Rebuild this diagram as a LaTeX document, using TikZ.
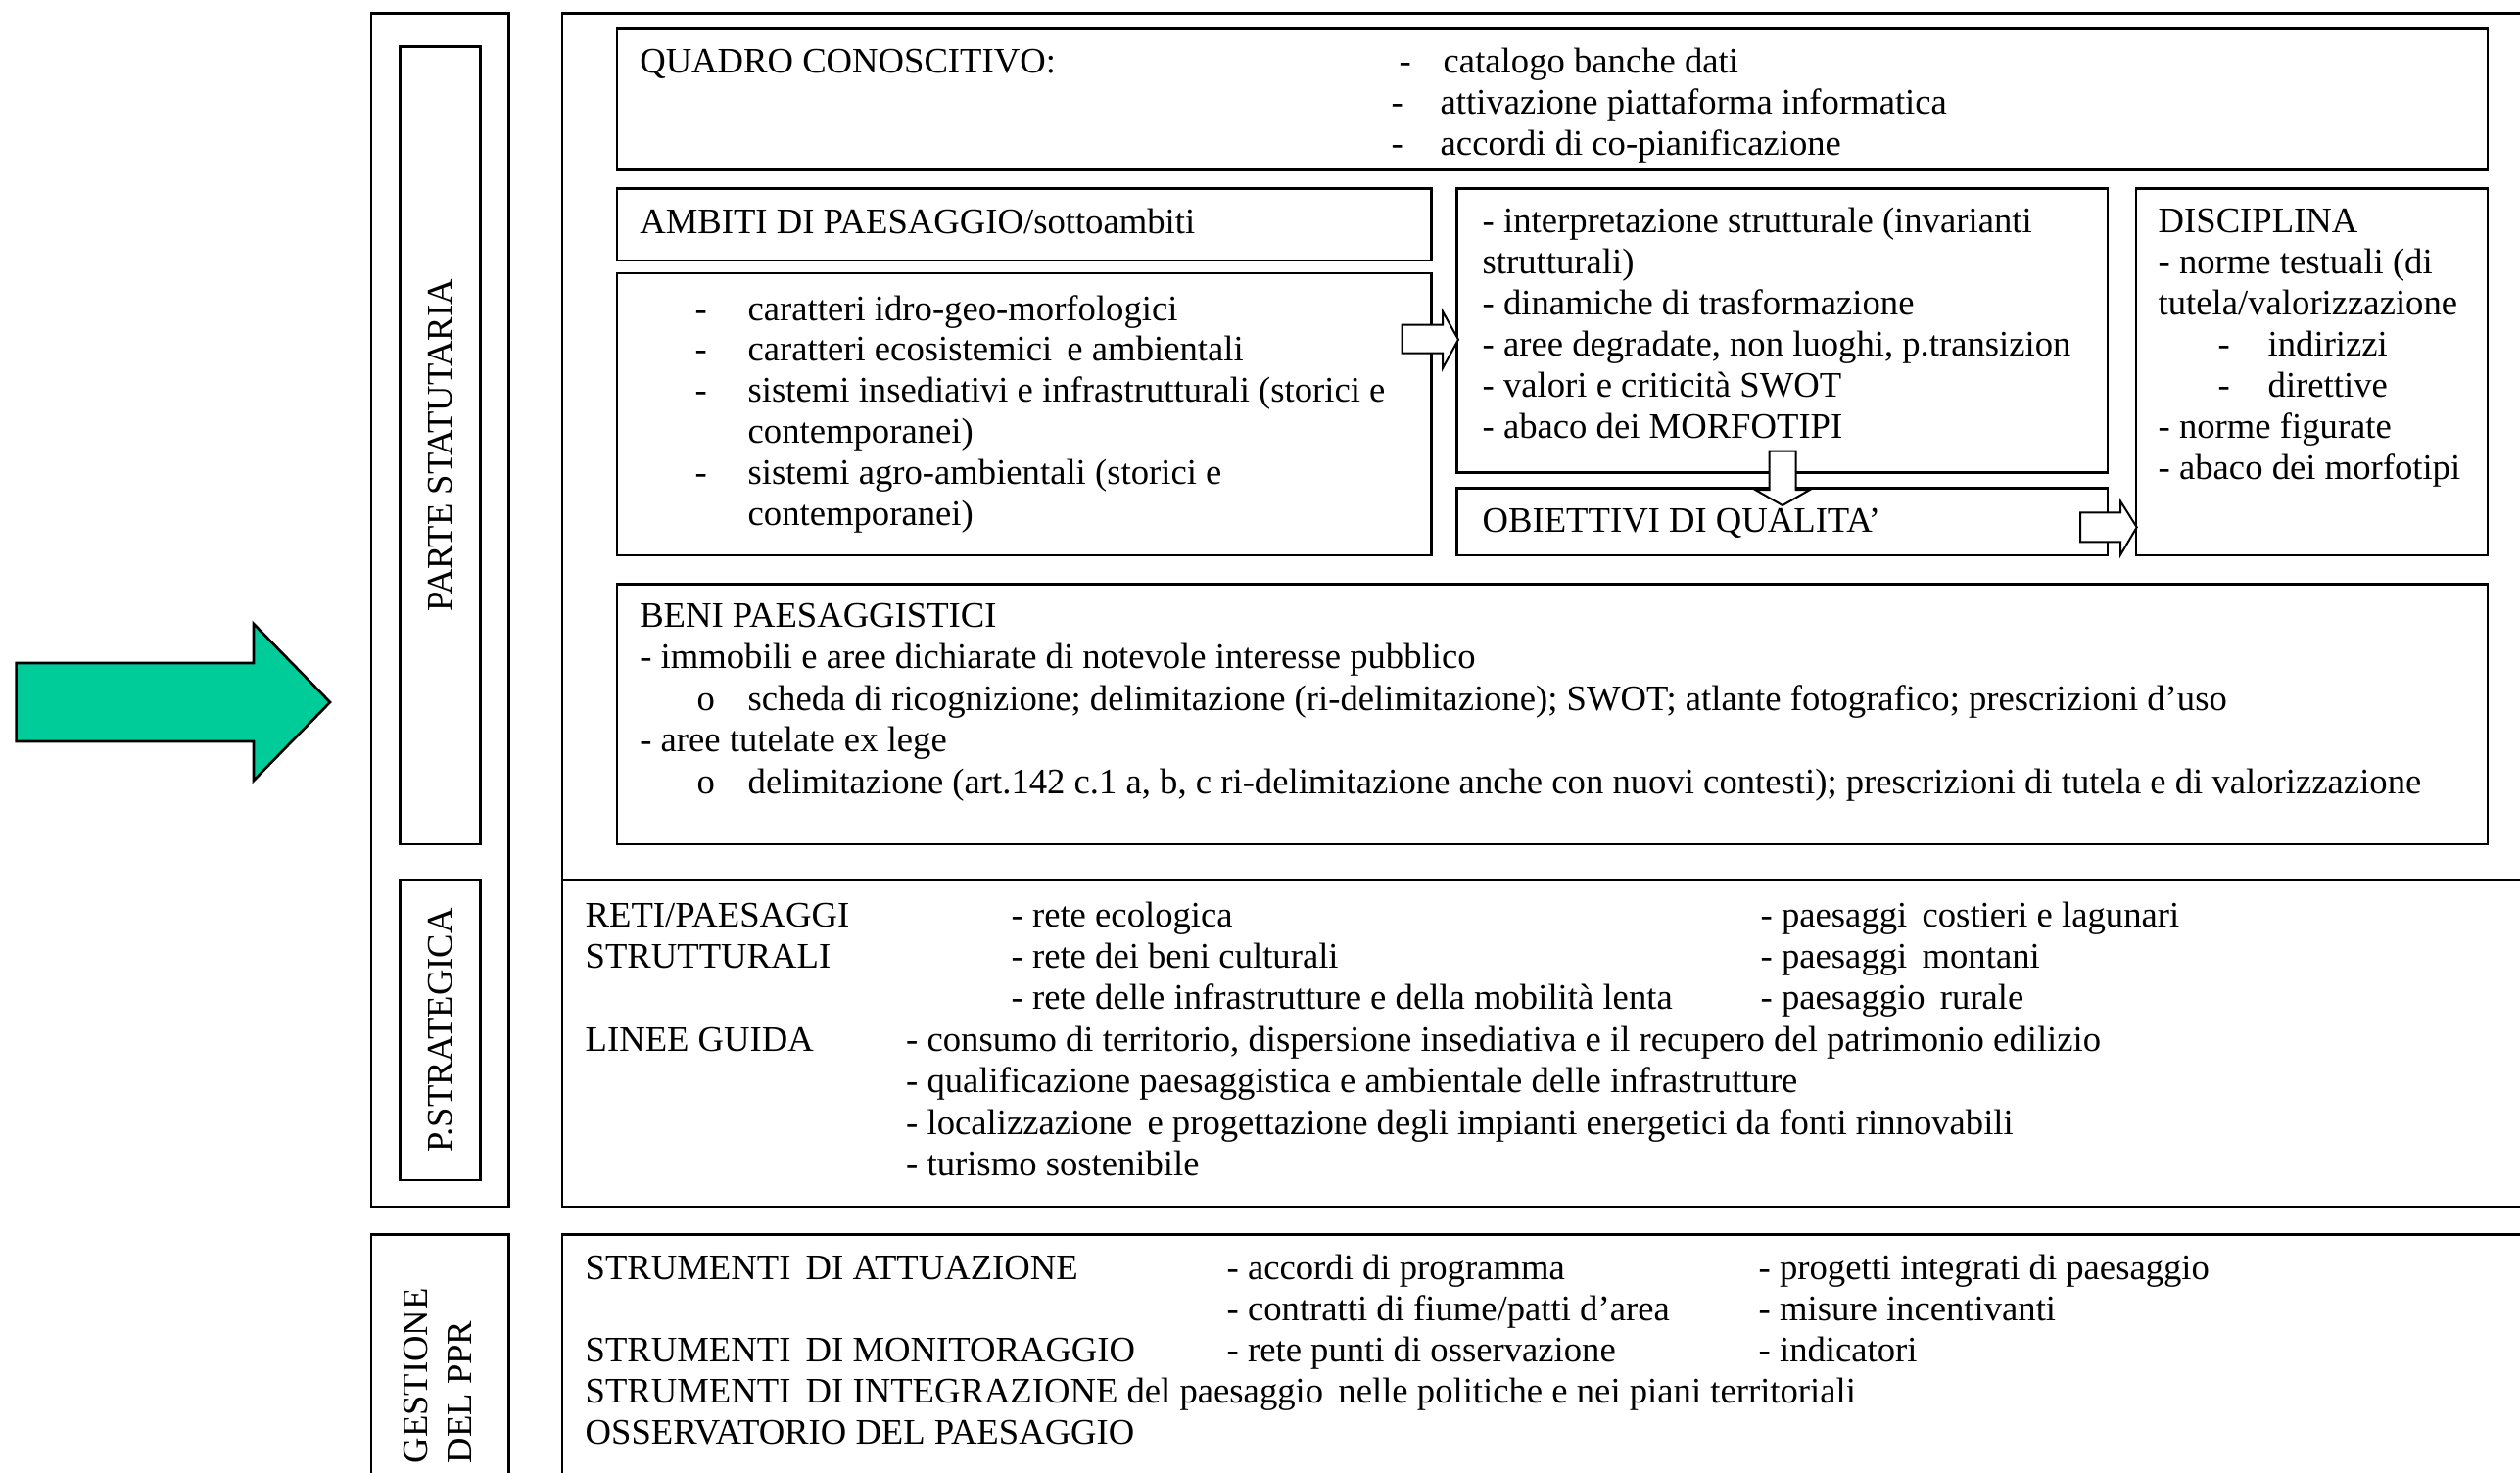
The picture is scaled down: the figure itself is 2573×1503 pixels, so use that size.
\documentclass[tikz,border=0pt]{standalone}
\usepackage{fontspec}
\setmainfont{Liberation Serif}
\usetikzlibrary{fit}
\definecolor{arrowgreen}{RGB}{0,204,153}
\tikzset{
  frame/.style={draw=black, line width=0.8pt, inner sep=0pt},
  txt/.style={font=\fontsize{11}{12.66}\selectfont, inner sep=0pt, anchor=base west},
  vtxt/.style={txt, rotate=90},
  blockarrow/.style={draw=black, fill=white, line width=0.6pt, line join=miter},
  bigarrow/.style={draw=black, fill=arrowgreen, line width=0.8pt, line join=miter}
}
\newcommand\Ln[4]{\node[txt] (#1) at (#2,#3) {#4};}
\begin{document}
\begin{tikzpicture}[x=0.3pt,y=-0.3pt]
\useasboundingbox (0,0) rectangle (2573,1503);
\clip (0,0) rectangle (2573,1503);

% green arrow
\draw[bigarrow] (16.6,677) -- (259,677) -- (259,637) -- (337,717) -- (259,797) -- (259,757) -- (16.6,757) -- cycle;

% left column
\node[frame, fit={(379,13.3) (519.5,1232)}] (leftA) {};
\node[frame, fit={(408.3,47.7) (490.5,862)}] (psbox) {};
\node[frame, fit={(408.3,899) (490.5,1205)}] (pstrbox) {};
\node[frame, fit={(379,1260.7) (519.5,1560)}] (gestbox) {};
\node[vtxt, anchor=center] (pslab) at (psbox.center) {PARTE STATUTARIA};
\node[vtxt, anchor=center] (pstrlab) at (pstrbox.center) {P.STRATEGICA};
\node[vtxt] (gest1) at (436,1495) {GESTIONE};
\node[vtxt] (gest2) at (481.7,1495) {DEL PPR};

% right column frames
\node[frame, fit={(574,13.3) (2620,899)}] (statut) {};
\node[frame, fit={(574,899) (2620,1232)}] (strat) {};
\node[frame, fit={(574,1260.7) (2620,1560)}] (gestmain) {};

% inner boxes
\node[frame, fit={(630,29.3) (2540,173.5)}] (quadro) {};
\node[frame, fit={(630,192.5) (1461.5,266)}] (ambiti) {};
\node[frame, fit={(630,279) (1461.5,567)}] (caratt) {};
\node[frame, fit={(1487.5,192.5) (2152,482.5)}] (interp) {};
\node[frame, fit={(1487.5,498.5) (2152,567)}] (obiett) {};
\node[frame, fit={(2181,192.5) (2540,567)}] (discip) {};
\node[frame, fit={(630,596.5) (2540,862)}] (beni) {};

% block arrows
\draw[blockarrow] (1431.7,331.7) -- (1473,331.7) -- (1473,318) -- (1489,346.7) -- (1473,376) -- (1473,360.7) -- (1431.7,360.7) -- cycle;
\draw[blockarrow] (1806.5,460.7) -- (1833.5,460.7) -- (1833.5,500) -- (1848,500) -- (1820,516) -- (1792,500) -- (1806.5,500) -- cycle;
\draw[blockarrow] (2124,523.3) -- (2165,523.3) -- (2165,511.7) -- (2181.7,538.3) -- (2165,566.7) -- (2165,553.3) -- (2124,553.3) -- cycle;

% QUADRO
\Ln{q0}{652.6}{74.5}{QUADRO CONOSCITIVO:}
\Ln{q1d}{1428}{74.5}{-}
\Ln{q1}{1473}{74.5}{catalogo banche dati}
\Ln{q2d}{1420}{116}{-}
\Ln{q2}{1470}{116}{attivazione piattaforma informatica}
\Ln{q3d}{1420}{158}{-}
\Ln{q3}{1470}{158}{accordi di co-pianificazione}

% AMBITI
\Ln{a0}{652.6}{238}{AMBITI DI PAESAGGIO/sottoambiti}

% caratteri
\Ln{c1d}{709}{327}{-}
\Ln{c1}{763}{327}{caratteri idro-geo-morfologici}
\Ln{c2d}{709}{368.8}{-}
\Ln{c2}{763}{368.8}{caratteri ecosistemici\, e ambientali}
\Ln{c3d}{709}{410.6}{-}
\Ln{c3}{763}{410.6}{sistemi insediativi e infrastrutturali (storici e}
\Ln{c4}{763}{452.4}{contemporanei)}
\Ln{c5d}{709}{494.2}{-}
\Ln{c5}{763}{494.2}{sistemi agro-ambientali (storici e}
\Ln{c6}{763}{536}{contemporanei)}

% interpretazione
\Ln{i1}{1513}{237.3}{- interpretazione strutturale (invarianti}
\Ln{i2}{1513}{279.4}{strutturali)}
\Ln{i3}{1513}{321.5}{- dinamiche di trasformazione}
\Ln{i4}{1513}{363.6}{- aree degradate, non luoghi, p.transizion}
\Ln{i5}{1513}{405.7}{- valori e criticità SWOT}
\Ln{i6}{1513}{447.8}{- abaco dei MORFOTIPI}
\Ln{o1}{1513}{543.4}{OBIETTIVI DI QUALITA’}

% disciplina
\Ln{d1}{2203}{237.3}{DISCIPLINA}
\Ln{d2}{2203}{279.4}{- norme testuali (di}
\Ln{d3}{2203}{321.5}{tutela/valorizzazione}
\Ln{d4d}{2264}{363.6}{-}
\Ln{d4}{2315}{363.6}{indirizzi}
\Ln{d5d}{2264}{405.7}{-}
\Ln{d5}{2315}{405.7}{direttive}
\Ln{d6}{2203}{447.8}{- norme figurate}
\Ln{d7}{2203}{489.9}{- abaco dei morfotipi}

% beni
\Ln{b1}{652.6}{640.3}{BENI PAESAGGISTICI}
\Ln{b2}{652.6}{682.7}{- immobili e aree dichiarate di notevole interesse pubblico}
\Ln{b3o}{711}{725}{o}
\Ln{b3}{763}{725}{scheda di ricognizione; delimitazione (ri-delimitazione); SWOT; atlante fotografico; prescrizioni d’uso}
\Ln{b4}{652.6}{767.5}{- aree tutelate ex lege}
\Ln{b5o}{711}{810}{o}
\Ln{b5}{763}{810}{delimitazione (art.142 c.1 a, b, c ri-delimitazione anche con nuovi contesti); prescrizioni di tutela e di valorizzazione}

% strategica
\Ln{s1}{597}{946.1}{RETI/PAESAGGI}
\Ln{s2}{597}{988.5}{STRUTTURALI}
\Ln{s1a}{1032}{946.1}{- rete ecologica}
\Ln{s2a}{1032}{988.5}{- rete dei beni culturali}
\Ln{s3a}{1032}{1030.9}{- rete delle infrastrutture e della mobilità lenta}
\Ln{s1b}{1797}{946.1}{- paesaggi\, costieri e lagunari}
\Ln{s2b}{1797}{988.5}{- paesaggi\, montani}
\Ln{s3b}{1797}{1030.9}{- paesaggio\, rurale}
\Ln{l0}{597}{1073.3}{LINEE GUIDA}
\Ln{l1}{924.5}{1073.3}{- consumo di territorio, dispersione insediativa e il recupero del patrimonio edilizio}
\Ln{l2}{924.5}{1115.7}{- qualificazione paesaggistica e ambientale delle infrastrutture}
\Ln{l3}{924.5}{1158.1}{- localizzazione\, e progettazione degli impianti energetici da fonti rinnovabili}
\Ln{l4}{924.5}{1200.5}{- turismo sostenibile}

% gestione
\Ln{g1}{597}{1306}{STRUMENTI\, DI ATTUAZIONE}
\Ln{g1a}{1252}{1306}{- accordi di programma}
\Ln{g1b}{1795}{1306}{- progetti integrati di paesaggio}
\Ln{g2a}{1252}{1348}{- contratti di fiume/patti d’area}
\Ln{g2b}{1795}{1348}{- misure incentivanti}
\Ln{g3}{597}{1390}{STRUMENTI\, DI MONITORAGGIO}
\Ln{g3a}{1252}{1390}{- rete punti di osservazione}
\Ln{g3b}{1795}{1390}{- indicatori}
\Ln{g4}{597}{1432}{STRUMENTI\, DI INTEGRAZIONE del paesaggio\, nelle politiche e nei piani territoriali}
\Ln{g5}{597}{1474}{OSSERVATORIO DEL PAESAGGIO}
\end{tikzpicture}
\end{document}
